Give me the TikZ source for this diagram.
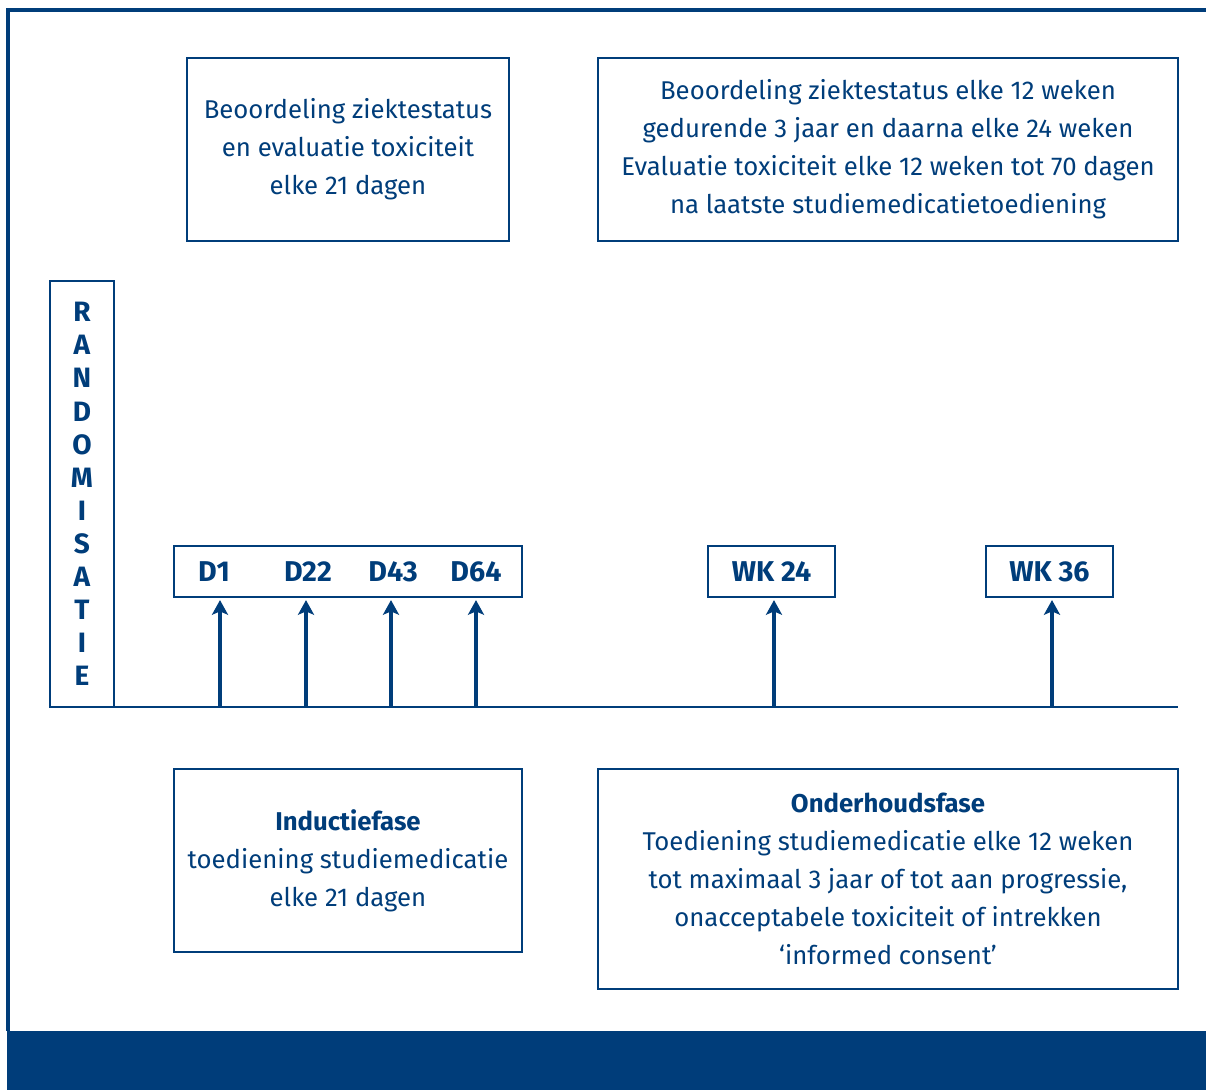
\documentclass[tikz,border=0pt]{standalone}
\usepackage{fontspec}
\setmainfont{Fira Sans}
\usepackage{tikz}
\usetikzlibrary{positioning, arrows.meta, calc}
\definecolor{nblue}{RGB}{0,61,122}
\newdimen\pxu \pxu=0.75pt
\tikzstyle{pijl} = [line width=2.4pt,->,>={Stealth[length=11pt,width=12pt,inset=2.5pt]},draw=nblue]
\tikzstyle{infobox} = [rectangle, draw=nblue, line width=1.6pt, align=center, text=nblue, inner sep=0pt, font=\fontsize{19.3}{28.5}\selectfont]
\tikzstyle{daylabel} = [text=nblue, font=\fontsize{21.5}{24}\selectfont\bfseries]

\begin{document}
\begin{tikzpicture}[x=0.75pt, y=-0.75pt]
        \useasboundingbox (0,0) rectangle (1206,1090);
        % frame and footer bar
        \draw [nblue, line width=2.4pt] (1206,10) -- (8,10) -- (8,1031);
        \fill [nblue] (7,1031) rectangle (1206,1090);

        \node (ziekte) [infobox, minimum width=322\pxu, minimum height=183\pxu] at (348,149.5) {Beoordeling ziektestatus\\en evaluatie toxiciteit\\elke 21 dagen};
        \node (langtermijn) [infobox, minimum width=580\pxu, minimum height=183\pxu] at (888,149.5) {Beoordeling ziektestatus elke 12 weken\\gedurende 3 jaar en daarna elke 24 weken\\Evaluatie toxiciteit elke 12 weken tot 70 dagen\\na laatste studiemedicatietoediening};
        \node (random) [infobox, minimum width=64\pxu, minimum height=426\pxu, font=\fontsize{21}{24.8}\selectfont\bfseries] at (82,494) {R\\A\\N\\D\\O\\M\\I\\S\\A\\T\\I\\E};

        \node (dagen) [infobox, minimum width=348\pxu, minimum height=51\pxu] at (348,571.5) {};
        \node (d1) [daylabel] at (214,571.5) {D1};
        \node (d22) [daylabel] at (308,571.5) {D22};
        \node (d43) [daylabel] at (393,571.5) {D43};
        \node (d64) [daylabel] at (476,571.5) {D64};
        \node (wk24) [infobox, minimum width=127\pxu, minimum height=51\pxu, font=\fontsize{21.5}{24}\selectfont\bfseries] at (771.5,571.5) {WK 24};
        \node (wk36) [infobox, minimum width=127\pxu, minimum height=51\pxu, font=\fontsize{21.5}{24}\selectfont\bfseries] at (1049.5,571.5) {WK 36};

        \node (inductie) [infobox, minimum width=348\pxu, minimum height=183\pxu] at (348,860.5) {\textbf{Inductiefase}\\toediening studiemedicatie\\elke 21 dagen};
        \node (onderhoud) [infobox, minimum width=580\pxu, minimum height=220\pxu] at (888,879) {\textbf{Onderhoudsfase}\\Toediening studiemedicatie elke 12 weken\\tot maximaal 3 jaar of tot aan progressie,\\onacceptabele toxiciteit of intrekken\\`informed consent'};

        % timeline
        \coordinate (start) at (50,707);
        \coordinate (eind) at (1178,707);
        \draw [nblue, line width=1.6pt] (start) -- (eind);
        \coordinate (t1) at (220,707);
        \coordinate (t22) at (306,707);
        \coordinate (t43) at (391,707);
        \coordinate (t64) at (476,707);
        \coordinate (t24) at (774,707);
        \coordinate (t36) at (1052,707);

        \draw [pijl] (t1) -- ([yshift=-2\pxu]t1 |- dagen.south);
        \draw [pijl] (t22) -- ([yshift=-2\pxu]t22 |- dagen.south);
        \draw [pijl] (t43) -- ([yshift=-2\pxu]t43 |- dagen.south);
        \draw [pijl] (t64) -- ([yshift=-2\pxu]t64 |- dagen.south);
        \draw [pijl] (t24) -- ([yshift=-2\pxu]t24 |- wk24.south);
        \draw [pijl] (t36) -- ([yshift=-2\pxu]t36 |- wk36.south);

        \end{tikzpicture}
\end{document}
